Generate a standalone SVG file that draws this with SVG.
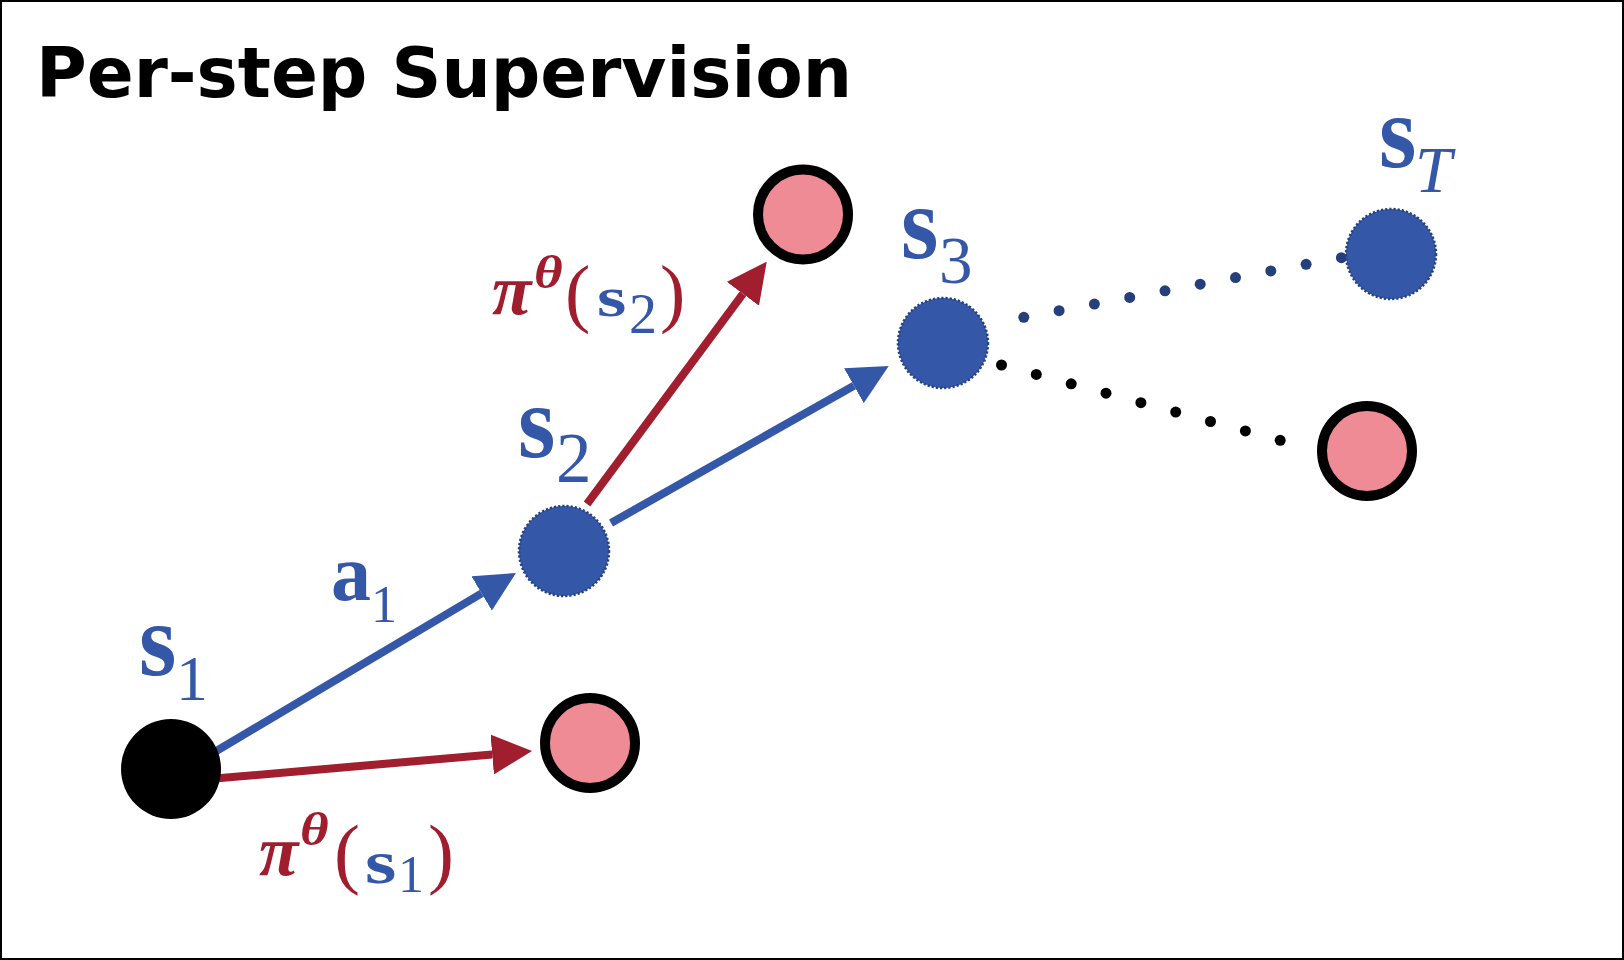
<svg xmlns="http://www.w3.org/2000/svg" width="1624" height="960" viewBox="0 0 1624 960">
<style>
.frame{fill:#fff;stroke:#000;stroke-width:2}
.title{font-family:"DejaVu Sans","Verdana",sans-serif;font-weight:bold;font-size:70px;fill:#000}
.state{fill:#3557A8;stroke:#26417f;stroke-width:2.5;stroke-dasharray:2.2 2}
.start{fill:#000}
.goal{fill:#EE8B95;stroke:#000;stroke-width:10}
.arB{stroke:#3557A8;stroke-width:8;fill:none}
.arR{stroke:#A11E2E;stroke-width:8;fill:none}
.dB{fill:#253F7B}
.dK{fill:#000}
.m{font-family:"Liberation Serif","Times New Roman",serif}
.sb{font-weight:bold;fill:#3457A8}
.sub{fill:#3457A8}
.it{font-style:italic}
.rb{font-weight:bold;font-style:italic;fill:#A01D2D}
.rp{fill:#A01D2D}
</style>
<defs>
<marker id="hB" markerUnits="userSpaceOnUse" viewBox="0 0 40 40" markerWidth="40" markerHeight="40" refX="0" refY="20" orient="auto"><path d="M0,0 L40,20 L0,40 Z" fill="#3557A8"/></marker>
<marker id="hR" markerUnits="userSpaceOnUse" viewBox="0 0 40 40" markerWidth="40" markerHeight="40" refX="0" refY="20" orient="auto"><path d="M0,0 L40,20 L0,40 Z" fill="#A11E2E"/></marker>
</defs>
<rect class="frame" x="1" y="1" width="1622" height="958"/>
<text class="title" x="36" y="97" textLength="816" lengthAdjust="spacingAndGlyphs">Per-step Supervision</text>

<g id="connectors">
<line class="arB" x1="205" y1="757.7" x2="481.6" y2="593.4" marker-end="url(#hB)"/>
<line class="arR" x1="206" y1="779.3" x2="492.2" y2="754.5" marker-end="url(#hR)"/>
<line class="arR" x1="587" y1="504" x2="742.9" y2="293.8" marker-end="url(#hR)"/>
<line class="arB" x1="611" y1="523" x2="853.9" y2="385.7" marker-end="url(#hB)"/>
<g id="dots-s3-sT">
<circle class="dB" cx="1023.8" cy="317.3" r="5.5"/>
<circle class="dB" cx="1059.1" cy="310.7" r="5.5"/>
<circle class="dB" cx="1094.4" cy="304.1" r="5.5"/>
<circle class="dB" cx="1129.7" cy="297.4" r="5.5"/>
<circle class="dB" cx="1165.0" cy="290.8" r="5.5"/>
<circle class="dB" cx="1200.2" cy="284.2" r="5.5"/>
<circle class="dB" cx="1235.5" cy="277.6" r="5.5"/>
<circle class="dB" cx="1270.8" cy="270.9" r="5.5"/>
<circle class="dB" cx="1306.1" cy="264.3" r="5.5"/>
<circle class="dB" cx="1341.4" cy="257.7" r="5.5"/>
</g>
<g id="dots-s3-goal">
<circle class="dK" cx="1001.5" cy="365.0" r="5.5"/>
<circle class="dK" cx="1036.3" cy="374.4" r="5.5"/>
<circle class="dK" cx="1071.2" cy="383.8" r="5.5"/>
<circle class="dK" cx="1106.0" cy="393.2" r="5.5"/>
<circle class="dK" cx="1140.9" cy="402.7" r="5.5"/>
<circle class="dK" cx="1175.7" cy="412.1" r="5.5"/>
<circle class="dK" cx="1210.5" cy="421.5" r="5.5"/>
<circle class="dK" cx="1245.4" cy="430.9" r="5.5"/>
<circle class="dK" cx="1280.2" cy="440.3" r="5.5"/>
</g>
</g>

<g id="node-s1">
<circle class="start" cx="171" cy="769" r="50"/>
<text class="m sb" font-size="96" transform="translate(139,675) scale(1,1.08)">s</text>
<text class="m sub" x="176" y="700" font-size="64">1</text>
</g>
<g id="node-goal1">
<circle class="goal" cx="590" cy="743" r="45"/>
</g>
<g id="node-s2">
<circle class="state" cx="564" cy="551" r="45"/>
<text class="m sb" font-size="96" transform="translate(518,457) scale(1,1.08)">s</text>
<text class="m sub" x="556" y="482" font-size="71">2</text>
</g>
<g id="node-goal2">
<circle class="goal" cx="803" cy="214.5" r="45"/>
</g>
<g id="node-s3">
<circle class="state" cx="943" cy="343" r="45"/>
<text class="m sb" font-size="96" transform="translate(901,258) scale(1,1.08)">s</text>
<text class="m sub" x="939" y="283" font-size="67">3</text>
</g>
<g id="node-sT">
<circle class="state" cx="1391" cy="254" r="45"/>
<text class="m sb" font-size="96" transform="translate(1379,167) scale(1,1.08)">s</text>
<text class="m sub it" x="1415" y="192" font-size="66">T</text>
</g>
<g id="node-goal3">
<circle class="goal" cx="1367" cy="451" r="45"/>
</g>

<g id="label-a1">
<text class="m sb" x="331" y="600" font-size="80">a</text>
<text class="m sub" x="371" y="622" font-size="52">1</text>
</g>
<g id="label-pi-s1">
<text class="m rb" x="259" y="875" font-size="72">π</text>
<text class="m rb" font-size="46" transform="translate(300,845) scale(1.2,1)">θ</text>
<text class="m rp" x="334" y="878.5" font-size="78">(</text>
<text class="m sb" font-size="62" transform="translate(365,883) scale(1.3,1)">s</text>
<text class="m sub" x="398" y="892" font-size="52">1</text>
<text class="m rp" x="428" y="878.5" font-size="78">)</text>
</g>
<g id="label-pi-s2">
<text class="m rb" x="492" y="314" font-size="72">π</text>
<text class="m rb" font-size="46" transform="translate(534,288) scale(1.2,1)">θ</text>
<text class="m rp" x="565" y="317.5" font-size="76">(</text>
<text class="m sb" font-size="58" transform="translate(597,316) scale(1.3,1)">s</text>
<text class="m sub" x="629" y="333" font-size="56">2</text>
<text class="m rp" x="660" y="318" font-size="76">)</text>
</g>
</svg>
